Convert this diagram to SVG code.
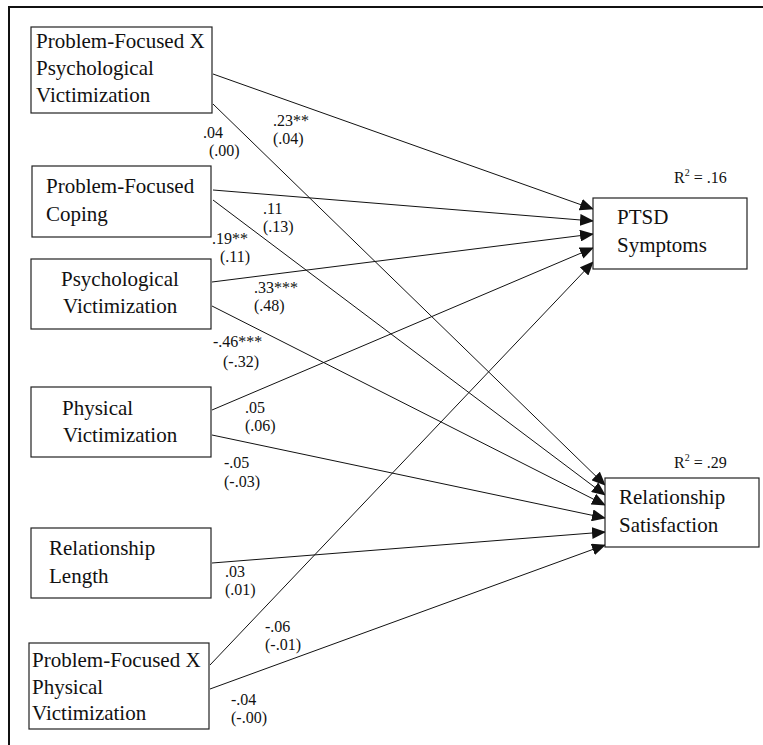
<svg xmlns="http://www.w3.org/2000/svg" width="763" height="745" viewBox="0 0 763 745">
<style>
.box{fill:#fff;stroke:#222;stroke-width:1.2}
.t{font-family:'Liberation Serif','DejaVu Serif',serif;font-size:21px;fill:#111}
.l{font-family:'Liberation Serif','DejaVu Serif',serif;font-size:16px;fill:#111}
.c{fill:none;stroke:#111;stroke-width:1}
</style>
<defs>
<marker id="ah" markerUnits="userSpaceOnUse" markerWidth="14" markerHeight="12" refX="13" refY="6" orient="auto">
<path d="M0,0 L14,6 L0,12 Z" fill="#111"/>
</marker>
</defs>
<rect x="0" y="0" width="763" height="745" fill="#fff"/>
<path d="M9,745 L9,7 L763,7" fill="none" stroke="#111" stroke-width="2"/>
<g id="connectors">
<line class="c" x1="213" y1="74" x2="593" y2="209" marker-end="url(#ah)"/>
<line class="c" x1="213" y1="190" x2="593" y2="221" marker-end="url(#ah)"/>
<line class="c" x1="212" y1="282" x2="593" y2="234" marker-end="url(#ah)"/>
<line class="c" x1="212" y1="410" x2="593" y2="248" marker-end="url(#ah)"/>
<line class="c" x1="210" y1="665" x2="593" y2="262" marker-end="url(#ah)"/>
<line class="c" x1="213" y1="104" x2="605" y2="485" marker-end="url(#ah)"/>
<line class="c" x1="213" y1="200" x2="605" y2="495" marker-end="url(#ah)"/>
<line class="c" x1="212" y1="306" x2="605" y2="505" marker-end="url(#ah)"/>
<line class="c" x1="212" y1="435" x2="605" y2="518" marker-end="url(#ah)"/>
<line class="c" x1="212" y1="563" x2="605" y2="532" marker-end="url(#ah)"/>
<line class="c" x1="210" y1="689" x2="605" y2="545" marker-end="url(#ah)"/>
</g>
<g id="labels">
<text class="l" x="273" y="126">.23**</text><text class="l" x="273" y="144">(.04)</text>
<text class="l" x="203" y="138">.04</text><text class="l" x="209" y="156">(.00)</text>
<text class="l" x="263" y="214">.11</text><text class="l" x="263" y="232">(.13)</text>
<text class="l" x="212" y="244">.19**</text><text class="l" x="220" y="262">(.11)</text>
<text class="l" x="254" y="293">.33***</text><text class="l" x="254" y="311">(.48)</text>
<text class="l" x="213" y="347">-.46***</text><text class="l" x="223" y="367">(-.32)</text>
<text class="l" x="245" y="413">.05</text><text class="l" x="245" y="431">(.06)</text>
<text class="l" x="224" y="468">-.05</text><text class="l" x="224" y="487">(-.03)</text>
<text class="l" x="225" y="577">.03</text><text class="l" x="225" y="595">(.01)</text>
<text class="l" x="265" y="632">-.06</text><text class="l" x="265" y="650">(-.01)</text>
<text class="l" x="231" y="705">-.04</text><text class="l" x="231" y="723">(-.00)</text>
</g>
<g id="n1"><rect class="box" x="31" y="27" width="181" height="86"/>
<text class="t" x="36" y="48">Problem-Focused X</text><text class="t" x="36" y="75">Psychological</text><text class="t" x="36" y="102">Victimization</text></g>
<g id="n2"><rect class="box" x="32" y="166" width="179" height="71"/>
<text class="t" x="46" y="193">Problem-Focused</text><text class="t" x="46" y="221">Coping</text></g>
<g id="n3"><rect class="box" x="31" y="259" width="180" height="70"/>
<text class="t" x="61" y="286">Psychological</text><text class="t" x="63" y="313">Victimization</text></g>
<g id="n4"><rect class="box" x="31" y="387" width="180" height="70"/>
<text class="t" x="62" y="415">Physical</text><text class="t" x="63" y="442">Victimization</text></g>
<g id="n5"><rect class="box" x="31" y="528" width="180" height="70"/>
<text class="t" x="49" y="555">Relationship</text><text class="t" x="49" y="583">Length</text></g>
<g id="n6"><rect class="box" x="29" y="643" width="180" height="86"/>
<text class="t" x="32" y="667">Problem-Focused X</text><text class="t" x="32" y="694">Physical</text><text class="t" x="32" y="720">Victimization</text></g>
<g id="ptsd"><rect class="box" x="593" y="198" width="154" height="71"/>
<text class="t" x="617" y="224">PTSD</text><text class="t" x="617" y="252">Symptoms</text>
<text class="l" x="674" y="183">R<tspan font-size="10" dy="-7">2</tspan><tspan dy="7"> = .16</tspan></text></g>
<g id="relsat"><rect class="box" x="605" y="478" width="154" height="69"/>
<text class="t" x="619" y="504">Relationship</text><text class="t" x="619" y="532">Satisfaction</text>
<text class="l" x="674" y="468">R<tspan font-size="10" dy="-7">2</tspan><tspan dy="7"> = .29</tspan></text></g>
</svg>
